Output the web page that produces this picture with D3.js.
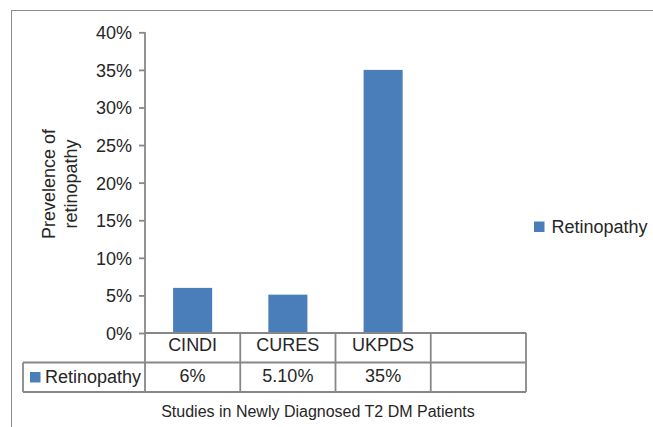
<!DOCTYPE html>
<html>
<head>
<meta charset="utf-8">
<script src="https://cdn.jsdelivr.net/npm/d3@7"></script>
<style>
  body { margin: 0; background: #fff; }
  svg { display: block; font-family: "Liberation Sans", Arial, sans-serif; }
</style>
</head>
<body>
<svg id="chart" width="653" height="427"></svg>
<script>
// data
const studies = ["CINDI", "CURES", "UKPDS", ""];
const retinopathy = [6, 5.1, 35];
const valueLabels = ["6%", "5.10%", "35%", ""];
const seriesName = "Retinopathy";
const yTicks = [0, 5, 10, 15, 20, 25, 30, 35, 40];

const svg = d3.select("#chart");
const ink = "#262626", grid = "#878787", blue = "#4A7EBB";

const x = d3.scaleBand().domain(studies).range([145, 526]);
const y = d3.scaleLinear().domain([0, 40]).range([333, 32.3]);
const rowH = 29.5;

// outer frame
svg.append("rect")
    .attr("x", 11.5).attr("y", 10.5)
    .attr("width", 700).attr("height", 500)
    .attr("fill", "none").attr("stroke", "#8c8c8c").attr("stroke-width", 1);

// bars
svg.append("g")
  .selectAll("rect")
  .data(retinopathy)
  .join("rect")
    .attr("x", (d, i) => x(studies[i]) + x.bandwidth() * 0.295)
    .attr("width", x.bandwidth() * 0.41)
    .attr("y", d => y(d))
    .attr("height", d => y(0) - y(d))
    .attr("fill", blue);

// y axis
const yAxis = svg.append("g")
    .attr("transform", "translate(145,0)")
    .call(d3.axisLeft(y).tickValues(yTicks).tickFormat(d => d + "%").tickSize(6).tickPadding(7));
yAxis.select(".domain").remove();
yAxis.selectAll(".tick line").attr("stroke", grid).attr("stroke-width", 1.8);
yAxis.selectAll(".tick text")
    .attr("fill", ink).attr("font-size", 18).attr("font-family", "Liberation Sans, Arial, sans-serif")
    .attr("dy", "0.36em");

// data table grid
const g = svg.append("g").attr("stroke", grid).attr("stroke-width", 1.8).attr("fill", "none");
const y0 = y(0);
g.append("line").attr("x1", 145).attr("x2", 145).attr("y1", y(40)).attr("y2", y0 + 2 * rowH);
g.append("line").attr("x1", 145).attr("x2", 526).attr("y1", y0).attr("y2", y0);
[1, 2].forEach(r => g.append("line").attr("x1", 23).attr("x2", 526)
    .attr("y1", y0 + r * rowH).attr("y2", y0 + r * rowH));
g.append("line").attr("x1", 23).attr("x2", 23).attr("y1", y0 + rowH).attr("y2", y0 + 2 * rowH);
studies.forEach(s => g.append("line")
    .attr("x1", x(s) + x.bandwidth()).attr("x2", x(s) + x.bandwidth())
    .attr("y1", y0).attr("y2", y0 + 2 * rowH));

// table text
const t = svg.append("g").attr("fill", ink).attr("font-size", 18).attr("text-anchor", "middle");
t.selectAll(".cat").data(studies).join("text")
    .attr("x", d => x(d) + x.bandwidth() / 2).attr("y", y0 + 18)
    .text(d => d);
t.selectAll(".val").data(valueLabels).join("text")
    .attr("x", (d, i) => x(studies[i]) + x.bandwidth() / 2).attr("y", y0 + rowH + 19)
    .text(d => d);

// legend key inside table
svg.append("rect").attr("x", 30).attr("y", y0 + rowH + 9.5).attr("width", 10.5).attr("height", 10.5).attr("fill", blue);
svg.append("text").attr("x", 45).attr("y", y0 + rowH + 20)
    .attr("fill", ink).attr("font-size", 18).text(seriesName);

// right legend
svg.append("rect").attr("x", 534).attr("y", 221.5).attr("width", 10.5).attr("height", 10.5).attr("fill", blue);
svg.append("text").attr("x", 551.5).attr("y", 232.5)
    .attr("fill", ink).attr("font-size", 18).text(seriesName);

// axis titles
const yt = svg.append("text")
    .attr("transform", "translate(54.5,184) rotate(-90)")
    .attr("fill", ink).attr("font-size", 18).attr("text-anchor", "middle");
yt.append("tspan").attr("x", 0).attr("y", 0).text("Prevelence of");
yt.append("tspan").attr("x", 0).attr("y", 22).text("retinopathy");

svg.append("text")
    .attr("x", 318).attr("y", 417)
    .attr("fill", ink).attr("font-size", 16).attr("text-anchor", "middle")
    .text("Studies in Newly Diagnosed T2 DM Patients");
</script>
</body>
</html>
